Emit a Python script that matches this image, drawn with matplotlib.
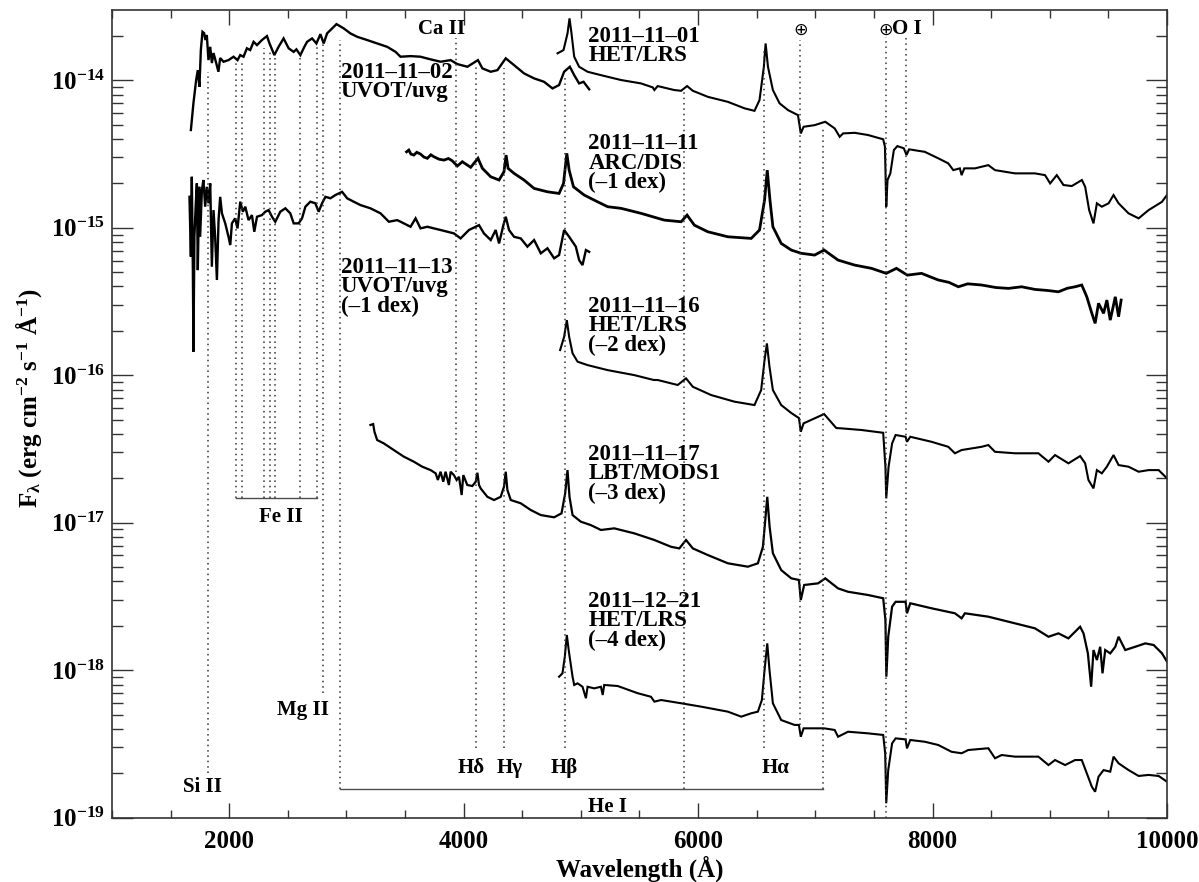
import numpy as np
import matplotlib
matplotlib.use('Agg')
import matplotlib.pyplot as plt
from matplotlib.ticker import FixedLocator, MultipleLocator, NullFormatter, LogFormatterSciNotation

plt.rcParams['font.family'] = ['Liberation Serif', 'DejaVu Serif']
plt.rcParams['font.weight'] = 'bold'
plt.rcParams['axes.labelweight'] = 'bold'
plt.rcParams['mathtext.fontset'] = 'custom'
plt.rcParams['mathtext.rm'] = 'Liberation Serif:bold'
plt.rcParams['mathtext.it'] = 'Liberation Serif:bold'
plt.rcParams['mathtext.bf'] = 'Liberation Serif:bold'

# spectra: wavelength (A), log10 flux (erg/cm2/s/A), already shifted by the dex offsets
uvot_1102 = np.array([
    [1673, -14.337], [1695, -14.154], [1718, -13.998], [1732, -13.931], [1746, -14.044],
    [1758, -13.795], [1772, -13.671], [1786, -13.680], [1797, -13.727], [1809, -13.693],
    [1823, -13.863], [1838, -13.773], [1852, -13.883], [1866, -13.815], [1889, -13.883],
    [1908, -13.942], [1923, -13.849], [1951, -13.874], [1994, -13.863], [2037, -13.840],
    [2071, -13.863], [2094, -13.829], [2122, -13.840], [2151, -13.783], [2179, -13.795],
    [2208, -13.739], [2237, -13.761], [2279, -13.727], [2322, -13.700], [2344, -13.750],
    [2385, -13.829], [2421, -13.773], [2464, -13.716], [2507, -13.783], [2550, -13.807],
    [2573, -13.790], [2607, -13.829], [2641, -13.773], [2664, -13.739], [2707, -13.716],
    [2744, -13.750], [2778, -13.687], [2806, -13.750], [2835, -13.682], [2878, -13.648],
    [2915, -13.619], [2943, -13.632], [2977, -13.648], [3034, -13.682], [3092, -13.705],
    [3177, -13.727], [3262, -13.750], [3348, -13.773], [3419, -13.807], [3461, -13.840],
    [3547, -13.836], [3632, -13.840], [3718, -13.858], [3803, -13.874], [3889, -13.863],
    [3946, -13.890], [4032, -13.908], [4122, -13.863], [4160, -13.919], [4231, -13.942],
    [4288, -13.931], [4359, -13.851], [4430, -13.897], [4515, -13.953], [4601, -13.987],
    [4686, -14.010], [4758, -14.055], [4814, -14.032], [4857, -13.942], [4906, -13.908],
    [4943, -13.965], [4985, -14.021], [5023, -14.010], [5071, -14.061],
])

het_1101 = np.array([
    [4801, -13.817], [4852, -13.795], [4886, -13.682], [4903, -13.580], [4920, -13.682],
    [4943, -13.840], [4985, -13.908], [5057, -13.942], [5171, -13.965], [5342, -13.998],
    [5513, -14.021], [5613, -14.048], [5627, -14.066], [5655, -14.039], [5797, -14.066],
    [5855, -14.071], [5906, -14.039], [5955, -14.071], [6083, -14.112], [6254, -14.146],
    [6396, -14.190], [6481, -14.207], [6524, -14.134], [6561, -13.908], [6576, -13.750],
    [6596, -13.908], [6638, -14.066], [6695, -14.156], [6767, -14.202], [6852, -14.236],
    [6876, -14.360], [6900, -14.315], [6994, -14.304], [7085, -14.281], [7165, -14.326],
    [7208, -14.383], [7237, -14.360], [7336, -14.356], [7450, -14.371], [7579, -14.400],
    [7594, -14.451], [7605, -14.857], [7616, -14.676], [7640, -14.631], [7670, -14.473],
    [7700, -14.446], [7755, -14.461], [7778, -14.507], [7800, -14.468], [7934, -14.485],
    [8049, -14.529], [8134, -14.563], [8177, -14.609], [8233, -14.597], [8248, -14.643],
    [8271, -14.597], [8362, -14.597], [8476, -14.575], [8533, -14.609], [8703, -14.631],
    [8874, -14.631], [8960, -14.643], [9003, -14.699], [9060, -14.643], [9117, -14.710],
    [9188, -14.717], [9274, -14.676], [9302, -14.722], [9336, -14.880], [9373, -14.970],
    [9402, -14.834], [9444, -14.857], [9502, -14.834], [9544, -14.778], [9587, -14.834],
    [9672, -14.902], [9758, -14.936], [9843, -14.880], [9957, -14.824], [10000, -14.778],
])

arc_1111 = np.array([
    [3513, -14.485], [3532, -14.473], [3550, -14.500], [3575, -14.507], [3600, -14.488],
    [3632, -14.500], [3660, -14.520], [3690, -14.529], [3720, -14.505], [3746, -14.518],
    [3790, -14.535], [3832, -14.541], [3870, -14.530], [3903, -14.546], [3946, -14.581],
    [3989, -14.552], [4060, -14.590], [4122, -14.529], [4160, -14.597], [4231, -14.654],
    [4302, -14.676], [4344, -14.620], [4362, -14.507], [4379, -14.597], [4430, -14.631],
    [4515, -14.676], [4601, -14.733], [4715, -14.756], [4814, -14.767], [4852, -14.699],
    [4880, -14.495], [4900, -14.609], [4937, -14.722], [5028, -14.778], [5143, -14.824],
    [5228, -14.857], [5342, -14.868], [5513, -14.902], [5712, -14.948], [5855, -14.959],
    [5906, -14.914], [5968, -14.982], [6083, -15.027], [6254, -15.061], [6453, -15.072],
    [6524, -15.015], [6567, -14.812], [6590, -14.609], [6613, -14.812], [6638, -14.993],
    [6709, -15.106], [6795, -15.151], [6880, -15.173], [6994, -15.185], [7075, -15.151],
    [7194, -15.219], [7336, -15.253], [7479, -15.275], [7605, -15.309], [7692, -15.275],
    [7785, -15.321], [7906, -15.309], [8049, -15.354], [8140, -15.370], [8220, -15.400],
    [8300, -15.380], [8419, -15.388], [8540, -15.405], [8647, -15.411], [8760, -15.400],
    [8874, -15.418], [8980, -15.425], [9074, -15.434], [9150, -15.410], [9216, -15.400],
    [9273, -15.388], [9316, -15.468], [9359, -15.580], [9387, -15.648], [9416, -15.512],
    [9459, -15.580], [9487, -15.490], [9516, -15.626], [9559, -15.468], [9587, -15.603],
    [9609, -15.490],
])

uvot_1113 = np.array([
    [1661, -14.790], [1673, -15.196], [1681, -14.654], [1690, -15.287], [1695, -15.840],
    [1703, -15.061], [1715, -14.834], [1724, -14.699], [1732, -15.287], [1744, -14.722],
    [1752, -15.061], [1767, -14.744], [1780, -14.676], [1795, -14.857], [1809, -14.722],
    [1823, -14.834], [1838, -14.699], [1852, -15.264], [1866, -14.880], [1880, -15.061],
    [1895, -15.354], [1909, -14.948], [1923, -14.790], [1938, -14.902], [1966, -14.970],
    [1994, -15.061], [2009, -15.117], [2023, -14.970], [2051, -14.936], [2071, -15.004],
    [2094, -14.823], [2117, -14.891], [2137, -14.857], [2165, -14.948], [2194, -14.914],
    [2214, -15.027], [2237, -14.925], [2279, -14.914], [2308, -14.891], [2336, -14.880],
    [2365, -14.925], [2393, -14.959], [2436, -14.891], [2479, -14.868], [2521, -14.902],
    [2550, -14.970], [2592, -14.970], [2621, -14.936], [2650, -14.857], [2692, -14.823],
    [2735, -14.834], [2763, -14.891], [2792, -14.834], [2821, -14.790], [2863, -14.800],
    [2906, -14.778], [2963, -14.756], [3006, -14.800], [3062, -14.823], [3120, -14.846],
    [3205, -14.868], [3291, -14.902], [3362, -14.959], [3433, -14.948], [3462, -14.959],
    [3547, -14.993], [3590, -14.936], [3632, -15.004], [3690, -14.993], [3803, -15.015],
    [3917, -15.038], [3974, -15.072], [4045, -15.015], [4131, -14.982], [4173, -15.038],
    [4231, -15.083], [4273, -15.015], [4302, -15.106], [4339, -14.982], [4359, -14.925],
    [4387, -15.015], [4430, -15.061], [4487, -15.072], [4544, -15.128], [4601, -15.083],
    [4658, -15.173], [4715, -15.139], [4772, -15.207], [4814, -15.185], [4857, -15.015],
    [4900, -15.061], [4957, -15.128], [4985, -15.219], [5014, -15.253], [5043, -15.151],
    [5071, -15.163],
])

het_1116 = np.array([
    [4823, -15.829], [4857, -15.739], [4880, -15.626], [4900, -15.739], [4929, -15.851],
    [4972, -15.908], [5057, -15.931], [5228, -15.965], [5456, -15.999], [5621, -16.032],
    [5655, -16.032], [5826, -16.066], [5897, -16.021], [5955, -16.078], [6111, -16.134],
    [6310, -16.179], [6481, -16.202], [6538, -16.100], [6567, -15.897], [6587, -15.784],
    [6609, -15.942], [6638, -16.100], [6709, -16.202], [6795, -16.256], [6860, -16.290],
    [6876, -16.383], [6900, -16.326], [7075, -16.263], [7179, -16.358], [7222, -16.360],
    [7393, -16.371], [7579, -16.390], [7598, -16.620], [7605, -16.835], [7625, -16.620],
    [7655, -16.462], [7685, -16.405], [7770, -16.417], [7782, -16.451], [7810, -16.417],
    [7991, -16.451], [8134, -16.485], [8191, -16.529], [8248, -16.507], [8419, -16.485],
    [8476, -16.473], [8533, -16.519], [8703, -16.529], [8903, -16.529], [8989, -16.586],
    [9045, -16.541], [9159, -16.597], [9259, -16.548], [9302, -16.597], [9330, -16.710],
    [9373, -16.767], [9402, -16.643], [9444, -16.665], [9487, -16.620], [9544, -16.541],
    [9587, -16.609], [9672, -16.620], [9758, -16.654], [9843, -16.643], [9929, -16.643],
    [10000, -16.699],
])

mods_1117 = np.array([
    [3205, -16.337], [3228, -16.331], [3239, -16.383], [3262, -16.439], [3319, -16.462],
    [3404, -16.507], [3490, -16.552], [3575, -16.586], [3647, -16.620], [3718, -16.643],
    [3761, -16.665], [3780, -16.710], [3803, -16.654], [3826, -16.722], [3846, -16.654],
    [3874, -16.744], [3889, -16.654], [3917, -16.677], [3940, -16.710], [3960, -16.688],
    [3983, -16.812], [3997, -16.677], [4031, -16.744], [4074, -16.751], [4103, -16.722],
    [4117, -16.661], [4131, -16.744], [4145, -16.767], [4202, -16.824], [4259, -16.846],
    [4316, -16.824], [4344, -16.756], [4359, -16.654], [4373, -16.778], [4402, -16.846],
    [4487, -16.868], [4573, -16.914], [4658, -16.948], [4772, -16.963], [4835, -16.936],
    [4866, -16.801], [4886, -16.643], [4903, -16.824], [4929, -16.948], [5000, -16.993],
    [5085, -17.016], [5171, -17.049], [5285, -17.038], [5456, -17.072], [5627, -17.117],
    [5769, -17.163], [5840, -17.174], [5897, -17.117], [5955, -17.174], [6083, -17.219],
    [6254, -17.275], [6425, -17.298], [6510, -17.275], [6553, -17.163], [6573, -16.982],
    [6590, -16.824], [6610, -17.027], [6638, -17.207], [6709, -17.321], [6795, -17.377],
    [6860, -17.388], [6876, -17.524], [6905, -17.422], [7023, -17.411], [7085, -17.377],
    [7194, -17.445], [7279, -17.468], [7450, -17.490], [7579, -17.512], [7598, -17.660],
    [7606, -18.044], [7622, -17.773], [7655, -17.569], [7685, -17.536], [7770, -17.536],
    [7782, -17.614], [7810, -17.546], [7991, -17.580], [8191, -17.614], [8248, -17.648],
    [8276, -17.614], [8476, -17.637], [8703, -17.682], [8874, -17.716], [8989, -17.773],
    [9074, -17.750], [9159, -17.784], [9259, -17.705], [9288, -17.750], [9325, -17.885],
    [9353, -18.112], [9373, -17.863], [9402, -17.931], [9430, -17.841], [9450, -18.021],
    [9473, -17.863], [9516, -17.886], [9559, -17.841], [9587, -17.773], [9644, -17.863],
    [9729, -17.841], [9815, -17.818], [9886, -17.829], [9957, -17.885], [10000, -17.942],
])

het_1221 = np.array([
    [4814, -18.044], [4843, -18.021], [4863, -17.908], [4880, -17.761], [4900, -17.885],
    [4929, -18.044], [4943, -18.100], [4972, -18.089], [5014, -18.112], [5043, -18.190],
    [5057, -18.112], [5114, -18.123], [5171, -18.112], [5186, -18.168], [5199, -18.100],
    [5314, -18.107], [5370, -18.123], [5485, -18.156], [5598, -18.180], [5627, -18.213],
    [5684, -18.202], [5855, -18.224], [6026, -18.247], [6254, -18.281], [6368, -18.315],
    [6453, -18.292], [6510, -18.281], [6544, -18.202], [6567, -17.999], [6590, -17.818],
    [6609, -17.999], [6638, -18.224], [6709, -18.338], [6823, -18.371], [6860, -18.371],
    [6876, -18.451], [6900, -18.394], [7075, -18.394], [7165, -18.405], [7194, -18.451],
    [7279, -18.417], [7450, -18.428], [7579, -18.439], [7596, -18.563], [7605, -18.902],
    [7622, -18.677], [7655, -18.496], [7685, -18.462], [7770, -18.469], [7782, -18.530],
    [7810, -18.473], [7934, -18.485], [8049, -18.507], [8162, -18.553], [8248, -18.563],
    [8305, -18.541], [8476, -18.529], [8533, -18.597], [8590, -18.575], [8703, -18.586],
    [8903, -18.586], [8989, -18.643], [9045, -18.609], [9131, -18.643], [9216, -18.609],
    [9273, -18.609], [9316, -18.699], [9359, -18.790], [9387, -18.824], [9416, -18.722],
    [9459, -18.677], [9516, -18.688], [9544, -18.586], [9587, -18.631], [9672, -18.677],
    [9758, -18.717], [9843, -18.710], [9929, -18.717], [10000, -18.756],
])

spectra = [uvot_1102, het_1101, arc_1111, uvot_1113, het_1116, mods_1117, het_1221]
spectrum_labels = [
    "2011–11–02\nUVOT/uvg",
    "2011–11–01\nHET/LRS",
    "2011–11–11\nARC/DIS\n(–1 dex)",
    "2011–11–13\nUVOT/uvg\n(–1 dex)",
    "2011–11–16\nHET/LRS\n(–2 dex)",
    "2011–11–17\nLBT/MODS1\n(–3 dex)",
    "2011–12–21\nHET/LRS\n(–4 dex)",
]

# line identifications (A)
line_waves = [1817, 2060, 2110, 2300, 2345, 2390, 2600, 2745, 2800, 2945,
              3934, 4102, 4340, 4861, 5876, 6563, 6870, 7065, 7600, 7774]
line_top = [-13.944, -13.863, -13.863, -13.781, -13.807, -13.829, -13.840, -13.773, -13.750, -13.727,
            -13.714, -13.910, -13.917, -13.978, -14.080, -13.781, -13.727, -14.324, -13.707, -13.707]
line_bottom = [-18.697, -16.830, -16.830, -16.830, -16.830, -16.830, -16.830, -16.830, -18.155, -18.805,
               -16.656, -18.527, -18.527, -18.527, -18.805, -18.527, -18.372, -18.805, -19.0, -18.473]
fe2_range = [2060, 2745]
he1_range = [2945, 7065]

ion_names = ["Si II", "Fe II", "Mg II", "Ca II", "Hδ", "Hγ", "Hβ", "Hα", "He I", "O I"]

fig = plt.figure(figsize=(11.99, 8.82), dpi=100)
ax = fig.add_axes([0.0934, 0.0729, 0.8799, 0.9158])

# the noisier spectra get a slightly heavier line
widths = [1.7, 1.5, 2.0, 1.7, 1.5, 1.6, 1.5]
for s, lw in zip(spectra, widths):
    ax.plot(s[:, 0], 10 ** s[:, 1], color='k', lw=lw, solid_joinstyle='miter')

dot = (0, (1, 2.5))
for w, t, b in zip(line_waves, line_top, line_bottom):
    ax.plot([w, w], [10 ** b, 10 ** t], color='0.2', lw=1.1, ls=dot)

ax.plot(fe2_range, [10 ** -16.830] * 2, color='0.3', lw=1.0)
ax.plot(he1_range, [10 ** -18.805] * 2, color='0.3', lw=1.0)

# spectrum captions
label_pos = [(2950, -13.876), (5065, -13.632), (5065, -14.358), (2950, -15.198),
             (5065, -15.463), (5065, -16.466), (5065, -17.463)]
for txt, (x, ly) in zip(spectrum_labels, label_pos):
    ax.text(x, 10 ** ly, txt, fontsize=16.5, ha='left', va='top', linespacing=0.9)

ion_pos = [(1776, -18.790), (2443, -16.963), (2629, -18.270), (3808, -13.653),
           (4061, -18.661), (4391, -18.661), (4857, -18.661), (6657, -18.661),
           (5230, -18.925), (7780, -13.655)]
for txt, (x, ly) in zip(ion_names, ion_pos):
    ax.text(x, 10 ** ly, txt, fontsize=15, ha='center', va='center')

for x in [6876, 7603]:
    ax.text(x, 10 ** -13.66, "⊕", fontsize=12.5, ha='center', va='center',
            family=['DejaVu Sans'], fontweight='normal')

ax.set_yscale('log')
ax.set_xlim(1000, 10000)
ax.set_ylim(1e-19, 10 ** -13.523)
ax.xaxis.set_major_locator(MultipleLocator(2000))
ax.xaxis.set_minor_locator(MultipleLocator(500))
decades = [10.0 ** e for e in range(-19, -13)]
ax.yaxis.set_major_locator(FixedLocator(decades))
ax.yaxis.set_major_formatter(LogFormatterSciNotation())
minors = [m * d for d in decades for m in range(2, 10) if m * d < 10 ** -13.523]
ax.yaxis.set_minor_locator(FixedLocator(minors))
ax.yaxis.set_minor_formatter(NullFormatter())

ax.tick_params(which='both', direction='in', top=True, right=True, color='0.2')
ax.tick_params(axis='x', which='major', length=11, width=1, labelsize=18, pad=9)
ax.tick_params(axis='x', which='minor', length=5.5, width=1)
ax.tick_params(axis='y', which='major', length=15, width=1, labelsize=18, pad=5)
ax.tick_params(axis='y', which='minor', length=8, width=1)
for sp in ax.spines.values():
    sp.set_linewidth(1.2)
    sp.set_color('0.2')

ax.set_xlabel('Wavelength (Å)', fontsize=18, labelpad=2)
ax.set_ylabel(r'F$_λ$ (erg cm$^{-2}$ s$^{-1}$ Å$^{-1}$)', fontsize=18)
ax.yaxis.set_label_coords(-0.064, 0.52)

fig.savefig('out.png', dpi=100)
